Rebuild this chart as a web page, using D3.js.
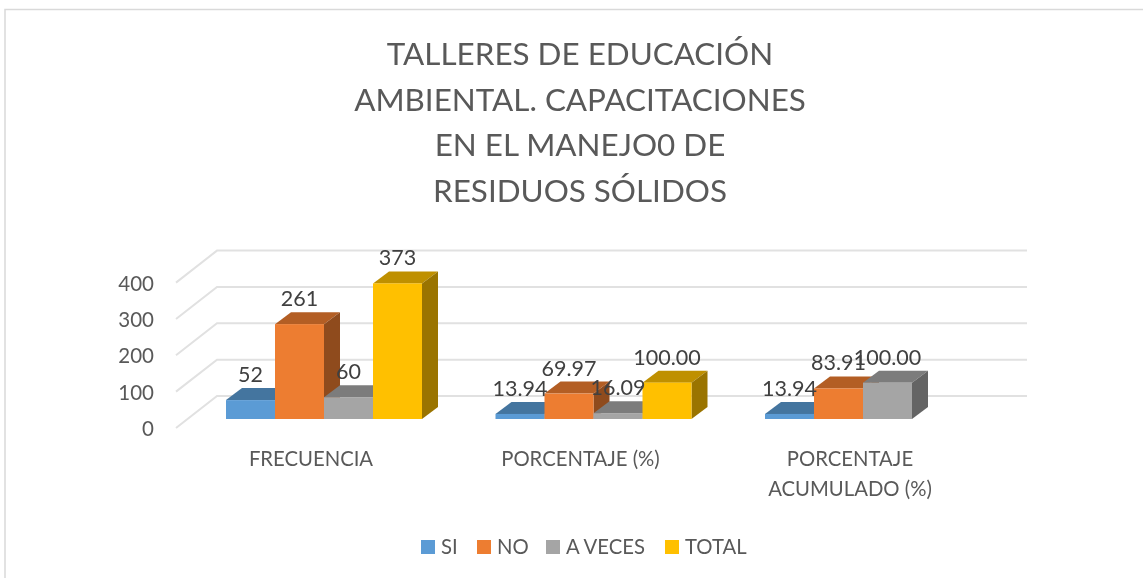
<!DOCTYPE html>
<html><head><meta charset="utf-8">
<script src="https://cdn.jsdelivr.net/npm/d3@7"></script>
<style>html,body{margin:0;padding:0;background:#fff}svg{display:block;filter:blur(0.45px)}text{font-family:Lato,"Open Sans",sans-serif;fill:#595959}</style>
</head><body><svg id="c" width="1143" height="578"></svg>
<script>
const titleLines = ["TALLERES DE EDUCACIÓN","AMBIENTAL. CAPACITACIONES","EN EL MANEJO0 DE","RESIDUOS SÓLIDOS"];
const categories = ["FRECUENCIA","PORCENTAJE (%)","PORCENTAJE ACUMULADO (%)"];
const categoryLines = [["FRECUENCIA"],["PORCENTAJE (%)"],["PORCENTAJE","ACUMULADO (%)"]];
const seriesNames = ["SI","NO","A VECES","TOTAL"];
const siValues = [52,13.94,13.94];
const noValues = [261,69.97,83.91];
const aVecesValues = [60,16.09,100];
const totalValues = [373,100,null];
const labelTexts = [["52","13.94","13.94"],["261","69.97","83.91"],["60","16.09","100.00"],["373","100.00",null]];
const yTicks = [0,100,200,300,400];
const colors = ["#5b9bd5","#ed7d31","#a5a5a5","#ffc000"];
const topColors = ["#44759f","#b35e24","#7c7c7c","#bf9000"];
const sideColors = ["#375f81","#8f4b1d","#646464","#9a7400"];

const allSeries = [siValues,noValues,aVecesValues,totalValues];
const svg = d3.select("#c");
const wall = {dx:41,dy:32}, barD = {dx:16,dy:12}, floorOff = 9;
const y = d3.scaleLinear().domain([0,400]).range([428,282.6]);
const pad = 73.5/269.5;
const x0 = d3.scaleBand().domain(categories).range([189.25,997.75]).paddingInner(pad).paddingOuter(pad/2);
const x1 = d3.scaleBand().domain(seriesNames).range([0,x0.bandwidth()]);
const frontLeft = 176, gridRight = 1027;

// frame
svg.append("path").attr("d","M5,578V9.5H1143").attr("fill","none").attr("stroke","#d9d9d9").attr("stroke-width",1.5);

// title
svg.append("g").selectAll("text").data(titleLines).join("text")
  .attr("x",580).attr("y",(d,i)=>65+i*45.7).attr("text-anchor","middle")
  .attr("font-size",31.4).text(d=>d);

// grid
svg.append("g").selectAll("path").data(yTicks).join("path")
  .attr("d",d=>d3.line()([[frontLeft,y(d)],[frontLeft+wall.dx,y(d)-wall.dy],[gridRight,y(d)-wall.dy]]))
  .attr("fill","none").attr("stroke","#e1e1e1").attr("stroke-width",2);

// axis
const axis = d3.axisLeft(y).tickValues(yTicks).tickSize(0).tickPadding(0);
const ax = svg.append("g").attr("transform","translate(154,1)").call(axis);
ax.select(".domain").remove();
ax.selectAll("text").attr("font-size",20.5).style("font-family","Lato,'Open Sans',sans-serif");

// bars
const base = y(0)-floorOff;
const bh = v => y(0)-y(v);
const marks = [];
seriesNames.forEach((s,si)=>categories.forEach((c,ci)=>{
  const v = allSeries[si][ci];
  if(v!==null) marks.push({s,si,c,ci,v});
}));
marks.sort((a,b)=>a.ci-b.ci||a.si-b.si);
const g = svg.append("g");
marks.forEach(m=>{
  const x = x0(m.c)+x1(m.s), w = x1.bandwidth(), top = base-bh(m.v);
  g.append("path").attr("fill",topColors[m.si])
    .attr("d",d3.line()([[x,top],[x+barD.dx,top-barD.dy],[x+w+barD.dx,top-barD.dy],[x+w,top]])+"Z");
  g.append("path").attr("fill",sideColors[m.si])
    .attr("d",d3.line()([[x+w,top],[x+w+barD.dx,top-barD.dy],[x+w+barD.dx,base-barD.dy],[x+w,base]])+"Z");
  g.append("rect").attr("x",x).attr("y",top).attr("width",w).attr("height",bh(m.v)).attr("fill",colors[m.si]);
});

// value labels
svg.append("g").selectAll("text").data(marks).join("text")
  .attr("x",d=>x0(d.c)+x1(d.s)+x1.bandwidth()/2)
  .attr("y",d=>base-bh(d.v)-18).attr("text-anchor","middle").attr("font-size",21.5)
  .style("fill","#404040").text(d=>labelTexts[d.si][d.ci]);

// category labels
categoryLines.forEach((lines,i)=>{
  svg.append("g").selectAll("text").data(lines).join("text")
    .attr("x",x0(categories[i])+x0.bandwidth()/2-13).attr("y",(d,j)=>466+j*30)
    .attr("text-anchor","middle").attr("font-size",20.3).text(d=>d);
});

// legend
const legendX = [421,477,546,665];
const lg = svg.append("g").selectAll("g").data(seriesNames).join("g")
  .attr("transform",(d,i)=>`translate(${legendX[i]},540)`);
lg.append("rect").attr("width",14).attr("height",14).attr("fill",(d,i)=>colors[i]);
lg.append("text").attr("x",20).attr("y",14).attr("font-size",20.3).text(d=>d);
</script></body></html>
